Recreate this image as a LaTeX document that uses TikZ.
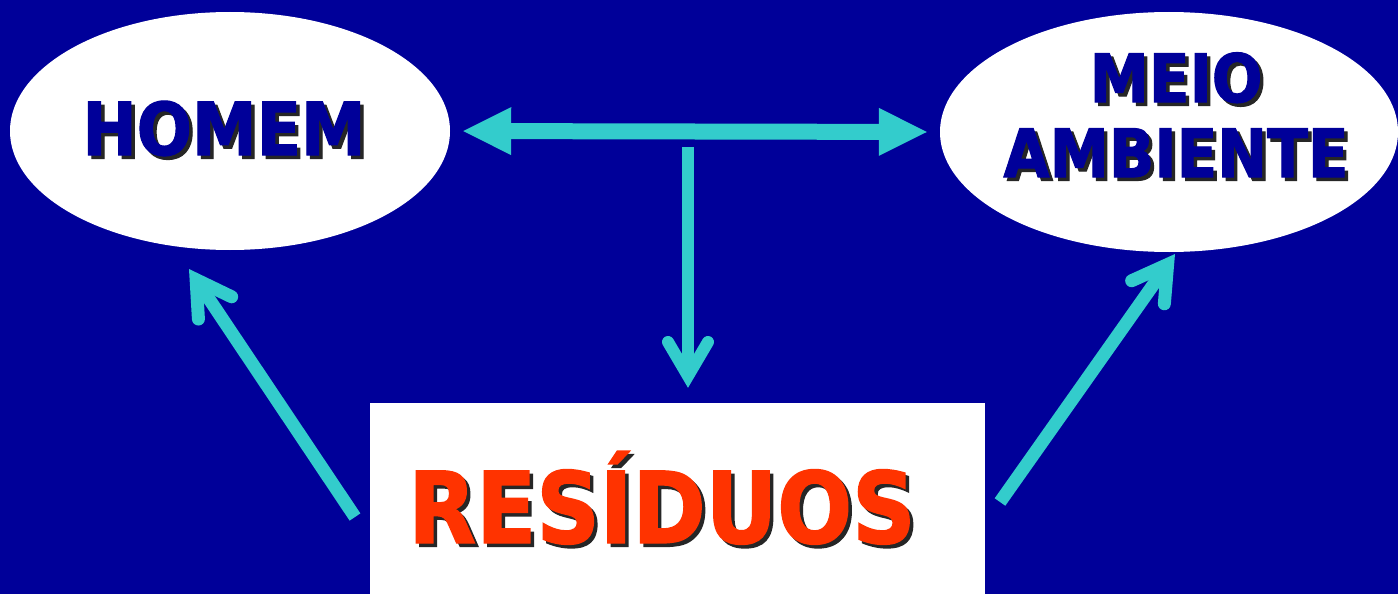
\documentclass[tikz,border=0pt]{standalone}
\usepackage{fontspec}
\newfontfamily\tahb{DejaVu Sans Bold}[FakeStretch=0.89,FakeBold=1.5]
\usetikzlibrary{shapes.geometric,arrows.meta}
\definecolor{bgblue}{RGB}{0,0,153}
\definecolor{arrowcyan}{RGB}{51,204,204}
\definecolor{resred}{RGB}{255,51,0}
\newcommand{\shd}[1]{\leavevmode\rlap{\kern3.5pt\raisebox{-3.5pt}{\textcolor{black!85}{#1}}}#1}
\begin{document}
\begin{tikzpicture}[x=1pt,y=-1pt,
  oval/.style={ellipse,fill=white,draw=none,inner sep=0pt},
  titletext/.style={text=bgblue,inner sep=0pt},
  dblarrow/.style={draw=arrowcyan,line width=16pt,
    {Triangle[length=48pt,width=48pt,line width=0pt]}-{Triangle[length=48pt,width=48pt,line width=0pt]},
    shorten <=13pt,shorten >=13pt},
  barbarrow/.style={draw=arrowcyan,line width=13pt,
    -{Straight Barb[length=34pt,width=40pt,line cap=round,line join=miter]}}]
\fill[bgblue] (0,0) rectangle (1398,594);
\useasboundingbox (0,0) rectangle (1398,594);
\clip (0,0) rectangle (1398,594);

\node[oval,minimum width=440pt,minimum height=238pt] (homem) at (230,131) {};
\node[oval,minimum width=458pt,minimum height=240pt] (meio) at (1169,132) {};
\node[fill=white,minimum width=615pt,minimum height=191pt,inner sep=0pt] (box) at (677.5,498.5) {};

\node[titletext,anchor=base,font=\tahb\fontsize{73}{75}\selectfont] (thomem) at (224,155) {\shd{HOMEM}};
\node[titletext,align=center,font=\tahb\fontsize{67}{75}\selectfont] (tmeio) at (1176,116.5) {\shd{MEIO}\\\shd{AMBIENTE}};
\node[text=resred,inner sep=0pt,anchor=base,font=\tahb\fontsize{99}{100}\selectfont] (tres) at (662,543) {\shd{RESÍDUOS}};

\draw[dblarrow] (homem.east) -- (meio.west);

\coordinate (stemtop) at (688,147);
\draw[barbarrow,line width=12pt,shorten >=15pt] (stemtop) -- (stemtop |- box.north);

\coordinate (tailL) at (355,517);
\coordinate (tipL) at (189,269);
\draw[barbarrow] (tailL) -- (tipL);

\coordinate (tailR) at (1000,502);
\coordinate (tipR) at (1175,254);
\draw[barbarrow] (tailR) -- (tipR);
\end{tikzpicture}
\end{document}
